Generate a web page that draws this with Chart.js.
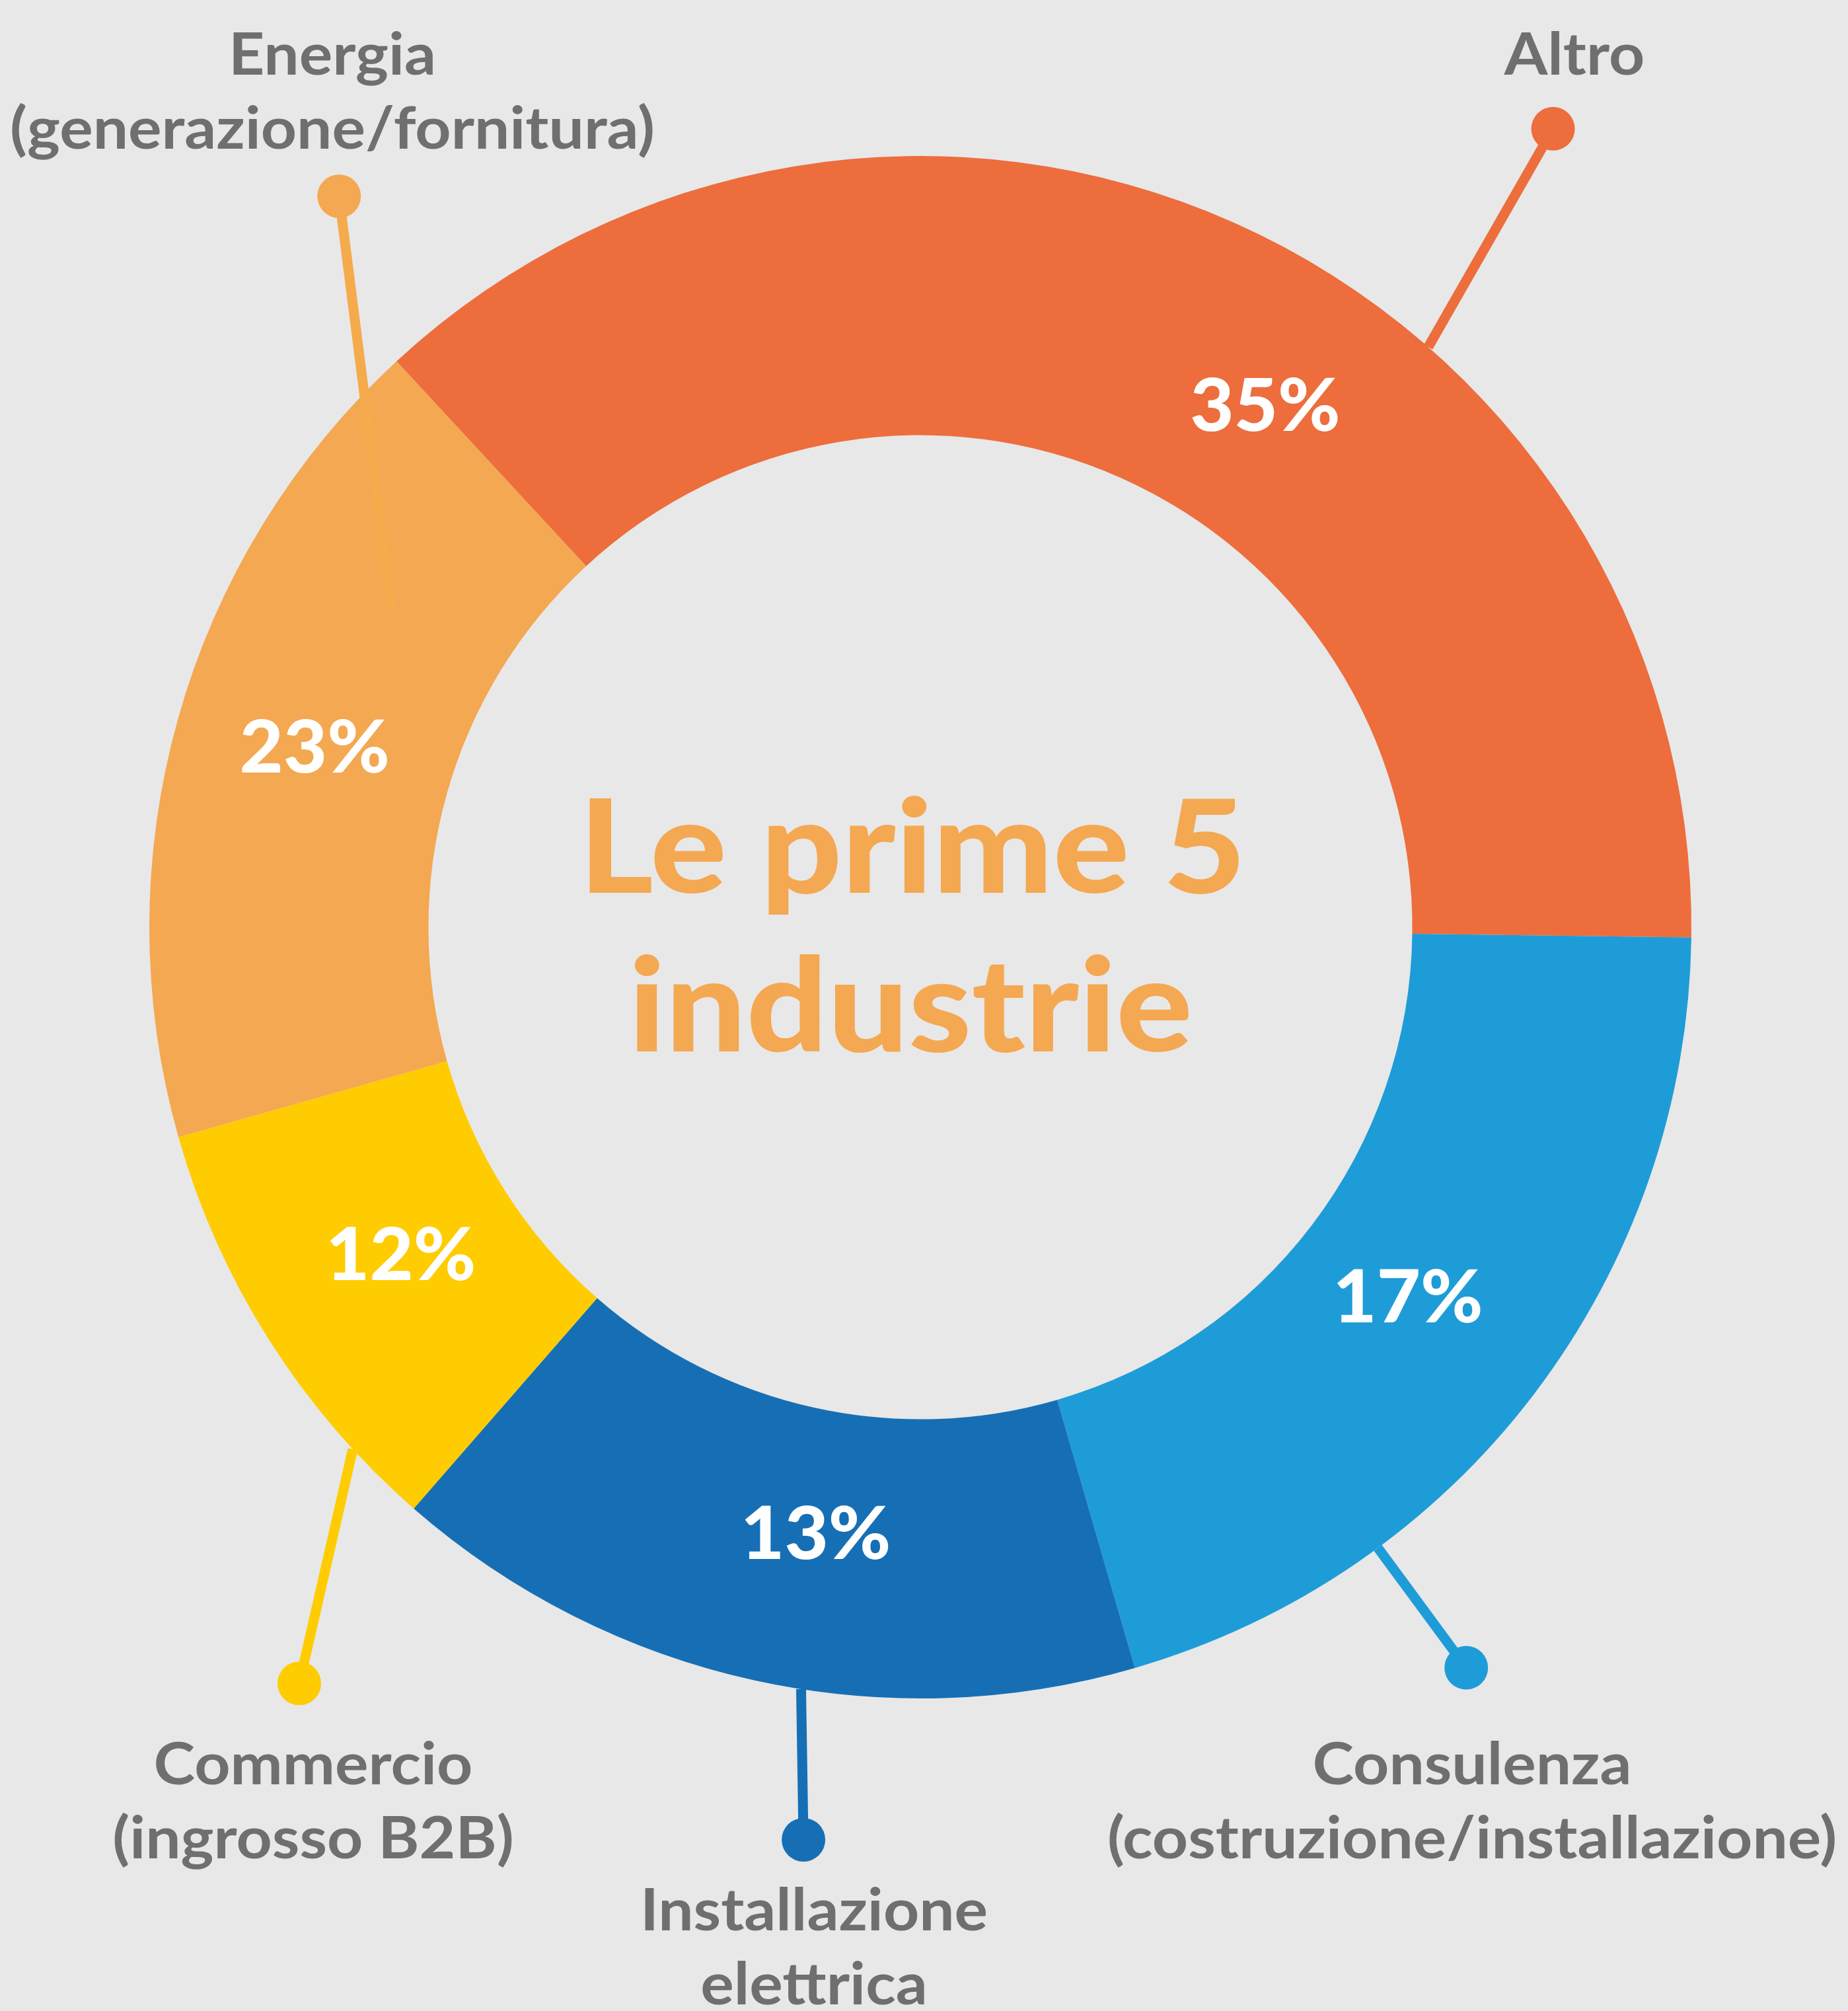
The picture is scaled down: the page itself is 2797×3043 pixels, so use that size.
<!DOCTYPE html>
<html lang="it">
<head>
<meta charset="utf-8">
<title>Le prime 5 industrie</title>
<script src="https://cdn.jsdelivr.net/npm/chart.js@4.4.1/dist/chart.umd.min.js"></script>
<style>
    html, body { margin: 0; padding: 0; background: #e8e8e8; }
    #wrap { position: relative; width: 2797px; height: 3043px; }
</style>
</head>
<body>
<div id="wrap"><canvas id="industryChart"></canvas></div>
<script>
// slices, clockwise from the top-left
const sliceNames = [
    ['Altro'],
    ['Consulenza', '(costruzione/installazione)'],
    ['Installazione', 'elettrica'],
    ['Commercio', '(ingrosso B2B)'],
    ['Energia', '(generazione/fornitura)']
];
// arc sizes as drawn on the ring (they do not follow the printed percentages)
const sliceShares = [37.1, 20.3, 15.9, 9.2, 17.5];
// percentages printed on the ring
const sliceLabels = ['35%', '17%', '13%', '12%', '23%'];
const sliceColors = ['#ed6d3d', '#1e9cd8', '#166fb5', '#fecc00', '#f4a852'];
const lineColors = ['#ed6d3d', '#1e9cd8', '#166fb5', '#fecc00', '#f5aa4c'];
const centerTitle = ['Le prime 5', 'industrie'];

// callouts: [angle of inner end, radius of inner end / outer radius, dot angle, dot distance / outer radius]
const calloutGeom = [
    [41.2, 1.0, 38.4, 1.321],
    [143.6, 1.0, 143.6, 1.193],
    [188.9, 1.0, 187.3, 1.193],
    [227.4, 1.0, 219.4, 1.269],
    [301.0, 0.80, 321.5, 1.211]
];
// name text: centre x, first baseline
const namePos = [[2383, 113], [2228, 2700], [1232, 2921], [474, 2700], [503, 113]];
// nudges for the ring percentages: angle (deg) and radius (px)
const pctShift = [9.6, 0, -2.7, 0, 0.7];
const pctInset = [-12, -28, -22, -25, 0];

const GREY = '#6f6f6f';
const FONT = 'Lato, "Open Sans", sans-serif';

function polar(cx, cy, r, deg) {
    const a = (deg - 90) * Math.PI / 180;
    return [cx + r * Math.cos(a), cy + r * Math.sin(a)];
}

// Lato runs a bit narrower than the original face, so stretch it sideways
function wideText(ctx, text, x, y, sx) {
    ctx.save();
    ctx.translate(x, y);
    ctx.scale(sx, 1);
    ctx.fillText(text, 0, 0);
    ctx.restore();
}

const decorPlugin = {
    id: 'decor',
    afterDatasetsDraw(chart) {
        const ctx = chart.ctx;
        const arcs = chart.getDatasetMeta(0).data;
        ctx.save();

        arcs.forEach((arc, i) => {
            const p = arc.getProps(['x', 'y', 'outerRadius', 'innerRadius', 'startAngle', 'endAngle'], true);
            const g = calloutGeom[i];

            // callout line + dot
            const [ex, ey] = polar(p.x, p.y, p.outerRadius * g[1], g[0]);
            const [dx, dy] = polar(p.x, p.y, p.outerRadius * g[3], g[2]);
            ctx.strokeStyle = lineColors[i];
            ctx.lineWidth = 15;
            ctx.lineCap = 'butt';
            ctx.beginPath();
            ctx.moveTo(ex, ey);
            ctx.lineTo(dx, dy);
            ctx.stroke();
            ctx.fillStyle = sliceColors[i];
            ctx.beginPath();
            ctx.arc(dx, dy, 33, 0, Math.PI * 2);
            ctx.fill();

            // percentage on the ring
            const mid = (p.startAngle + p.endAngle) / 2 + pctShift[i] * Math.PI / 180;
            const rMid = (p.innerRadius + p.outerRadius) / 2 + pctInset[i];
            ctx.fillStyle = '#ffffff';
            ctx.font = '900 110px ' + FONT;
            ctx.textAlign = 'center';
            ctx.textBaseline = 'middle';
            wideText(ctx, sliceLabels[i], p.x + rMid * Math.cos(mid), p.y + rMid * Math.sin(mid), 1.04);

            // category name
            ctx.fillStyle = GREY;
            ctx.font = 'bold 88px ' + FONT;
            ctx.textBaseline = 'alphabetic';
            sliceNames[i].forEach((line, k) => {
                wideText(ctx, line, namePos[i][0], namePos[i][1] + k * 112, 1.075);
            });
        });

        // title in the hole
        ctx.fillStyle = '#f4a852';
        ctx.font = '900 197px ' + FONT;
        ctx.textAlign = 'center';
        ctx.textBaseline = 'alphabetic';
        wideText(ctx, centerTitle[0], 1381, 1351, 1.095);
        wideText(ctx, centerTitle[1], 1378, 1591, 1.095);

        ctx.restore();
    }
};

new Chart(document.getElementById('industryChart'), {
    type: 'doughnut',
    data: {
        labels: sliceNames.map(n => n.join(' ')),
        datasets: [{
            data: sliceShares,
            backgroundColor: sliceColors,
            borderWidth: 0,
            hoverOffset: 0
        }]
    },
    options: {
        responsive: true,
        maintainAspectRatio: false,
        animation: false,
        rotation: -42.8,
        cutout: '63.8%',
        layout: {
            padding: { left: 226, right: 237, top: 236, bottom: 473 }
        },
        plugins: {
            legend: { display: false },
            tooltip: { enabled: false }
        }
    },
    plugins: [decorPlugin]
});
</script>
</body>
</html>
